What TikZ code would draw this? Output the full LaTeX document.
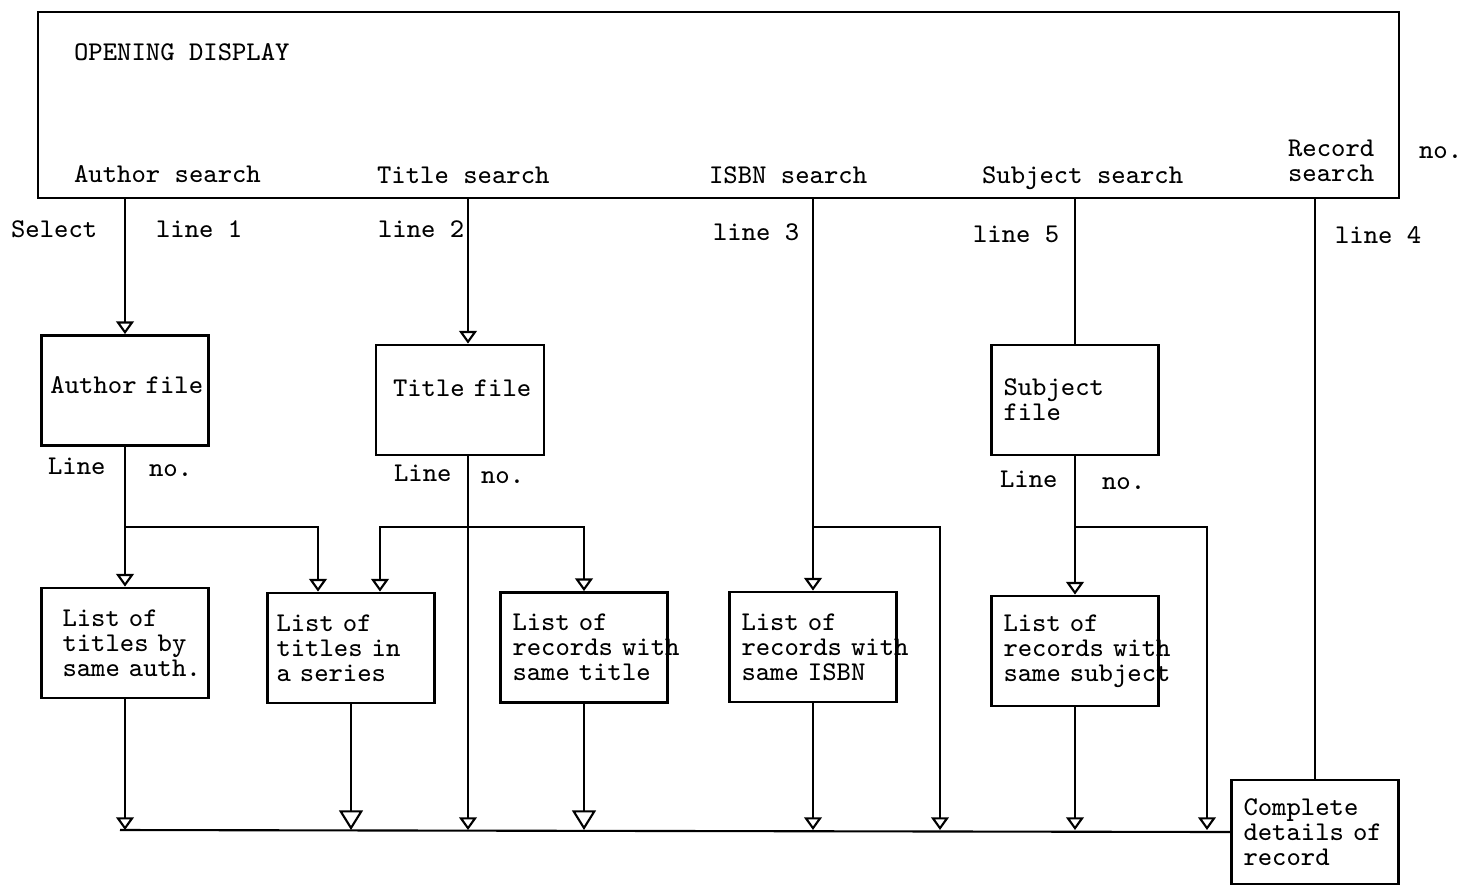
\documentclass[tikz,border=0pt]{standalone}
\usepackage{tikz}
\usetikzlibrary{
arrows.meta,
positioning,
calc
}

\begin{document}
\begin{tikzpicture}[
line width=0.6pt,
tt/.style={font=\ttfamily\fontsize{7.7}{7.1}\selectfont,inner sep=0pt},
lbl/.style={tt,anchor=base west},
box/.style={
draw,
line width=0.8pt,
tt,
minimum width=1.67cm,
minimum height=1.1cm,
text width=1.43cm,
inner xsep=0.12cm,
align=left
},
arrow/.style={-{Triangle[open,width=5pt,length=3.6pt]}},
bigarrow/.style={-{Triangle[open,width=6.8pt,length=5.6pt]}}
]

\useasboundingbox (0,0) rectangle (14.71,-8.85);

\node[draw,line width=0.8pt,minimum width=13.61cm,minimum height=1.86cm] (opening) at (7.185,-1.05) {};
\node[lbl] (otitle) at (0.73,-0.60) {OPENING DISPLAY};
\node[lbl] (asearch) at (0.73,-1.82) {Author search};
\node[lbl] (tsearch) at (3.76,-1.83) {Title search};
\node[lbl] (isearch) at (7.08,-1.83) {ISBN search};
\node[lbl] (ssearch) at (9.81,-1.83) {Subject search};
\node[tt,align=left,anchor=west] (rsearch) at (12.87,-1.61) {Record\\search};
\node[lbl] (recno) at (14.18,-1.58) {no.};

\node[lbl] (select) at (0.10,-2.37) {Select};
\node[lbl] (line1) at (1.55,-2.37) {line 1};
\node[lbl] (line2) at (3.77,-2.37) {line 2};
\node[lbl] (line3) at (7.12,-2.40) {line 3};
\node[lbl] (line5) at (9.72,-2.42) {line 5};
\node[lbl] (line4) at (13.34,-2.43) {line 4};

\node[box,inner xsep=0.09cm,text width=1.49cm,text depth=0.1cm] (afile) at (1.25,-3.905) {Author~file};
\node[box,inner xsep=0.17cm,text width=1.34cm,text depth=0.24cm] (tfile) at (4.60,-4.00) {Title~file};
\node[box] (sfile) at (10.75,-4.00) {Subject\\file};
\coordinate (tcol) at ([xshift=0.08cm]tfile.north);

\node[lbl] (aline) at (0.47,-4.74) {Line};
\node[lbl] (ano) at (1.48,-4.76) {no.};
\node[lbl] (tline) at (3.93,-4.81) {Line};
\node[lbl] (tno) at (4.80,-4.83) {no.};
\node[lbl] (sline) at (9.99,-4.87) {Line};
\node[lbl] (sno) at (11.01,-4.89) {no.};

\node[box,inner xsep=0.21cm,text width=1.25cm] (alist) at (1.25,-6.43) {List~of\\titles~by\\same~auth.};
\node[box,inner xsep=0.09cm,text width=1.49cm] (serlist) at (3.51,-6.48) {List~of\\titles~in\\a~series};
\node[box] (tlist) at (5.84,-6.475) {List~of\\records~with\\same~title};
\node[box] (ilist) at (8.13,-6.47) {List~of\\records~with\\same~ISBN};
\node[box] (slist) at (10.75,-6.51) {List~of\\records~with\\same~subject};
\node[box,minimum height=1.04cm] (complete) at (13.15,-8.32) {Complete\\details~of\\record};

\coordinate (split) at (0,-5.27);
\coordinate (busL) at (1.20,-8.30);
\coordinate (dropI) at (9.40,-8.30);
\coordinate (dropS) at (12.07,-8.30);

\draw[arrow] (opening.south -| afile.north) -- (afile.north);
\draw[arrow] (opening.south -| tcol) -- (tcol);
\draw[arrow] (opening.south -| ilist.north) -- (ilist.north);
\draw (opening.south -| sfile.north) -- (sfile.north);
\draw (opening.south -| complete.north) -- (complete.north);

\draw[arrow] (afile.south) -- (alist.north);
\draw[arrow] (afile.south |- split) -| ([xshift=-0.33cm]serlist.north);
\draw[arrow] (tcol |- split) -| ([xshift=0.29cm]serlist.north);
\draw[arrow] (tcol |- split) -| (tlist.north);
\draw[arrow] (ilist.north |- split) -| (dropI);
\draw[arrow] (sfile.south) -- (slist.north);
\draw[arrow] (sfile.south |- split) -| (dropS);

\draw[arrow] (alist.south) -- (alist.south |- busL);
\draw[bigarrow] (serlist.south) -- (serlist.south |- busL);
\draw[arrow] (tcol |- tfile.south) -- (tcol |- busL);
\draw[bigarrow] (tlist.south) -- (tlist.south |- busL);
\draw[arrow] (ilist.south) -- (ilist.south |- busL);
\draw[arrow] (slist.south) -- (slist.south |- busL);
\draw (busL) -- (complete.west);

\end{tikzpicture}
\end{document}
